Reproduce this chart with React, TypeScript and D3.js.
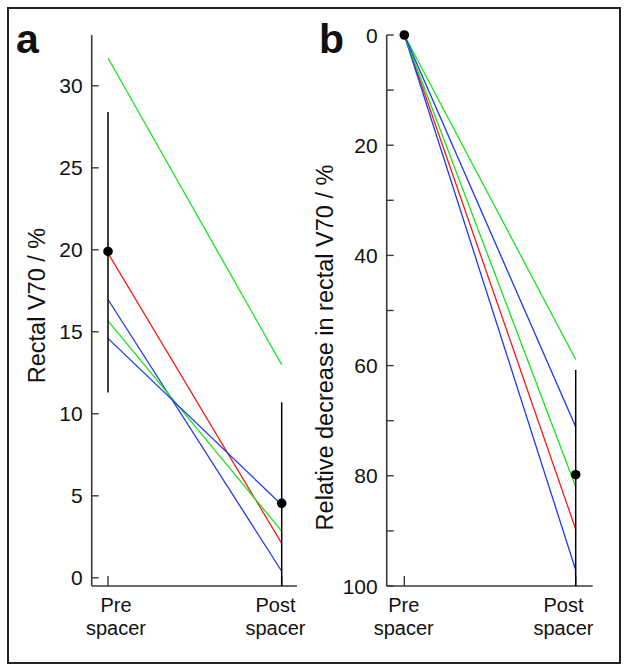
import React from "react";
import * as d3 from "d3";

const categories = ["Pre", "Post"];
const categoryLines = [["Pre", "spacer"], ["Post", "spacer"]];
const seriesColors = ["#1fe01f", "#ee1c1c", "#1f3be0", "#1fe01f", "#1f3be0"];

// Panel a: rectal V70 (%) per patient
const preV70 = [31.7, 19.8, 16.97, 15.67, 14.6];
const postV70 = [13.0, 2.1, 0.4, 2.85, 4.45];
const meanV70 = [19.9, 4.54];
const errLowV70 = [11.3, -0.5];
const errHighV70 = [28.4, 10.7];
const ticksA = [0, 5, 10, 15, 20, 25, 30];

// Panel b: relative decrease (%)
const preDecrease = [0, 0, 0, 0, 0];
const postDecrease = [58.9, 89.7, 97.1, 82.0, 71.1];
const meanDecrease = [0, 79.8];
const errLowDecrease = [null, 60.8];
const errHighDecrease = [null, 100];
const majorTicksB = [0, 20, 40, 60, 80, 100];
const minorTicksB = [10, 30, 50, 70, 90];

const FONT = "'Liberation Sans', Arial, Helvetica, sans-serif";
const AXIS = "#3a3a3a";

function Panel(props: any) {
  const {
    letter, letterX, axisX, axisRight, xRange, labelCenters, yDomain, pre, post,
    mean, errLow, errHigh, majorTicks, minorTicks, yLabel, yLabelX, yLabelY,
  } = props;
  const top = 35, bottom = 586;
  const x = d3.scalePoint<string>().domain(categories).range(xRange);
  const y = d3.scaleLinear().domain(yDomain).range([bottom, top]);
  const line = d3.line<number>().x((_, i) => x(categories[i]) as number).y((d) => y(d));
  return (
    <g>
      <text x={letterX} y={53} fontFamily={FONT} fontWeight="bold" fontSize={41} fill="#111">{letter}</text>
      {/* axes */}
      <line x1={axisX} x2={axisX} y1={top} y2={bottom} stroke={AXIS} strokeWidth={1.6} />
      <line x1={axisX} x2={axisRight} y1={bottom} y2={bottom} stroke={AXIS} strokeWidth={1.6} />
      {majorTicks.map((t: number) => (
        <g key={"M" + t}>
          <line x1={axisX} x2={axisX + 7} y1={y(t)} y2={y(t)} stroke={AXIS} strokeWidth={1.4} />
          <text x={axisX - 9} y={y(t)} dy="0.36em" textAnchor="end" fontFamily={FONT} fontSize={21} fill="#111">{t}</text>
        </g>
      ))}
      {minorTicks.map((t: number) => (
        <line key={"m" + t} x1={axisX} x2={axisX + 7} y1={y(t)} y2={y(t)} stroke={AXIS} strokeWidth={1.4} />
      ))}
      {categories.map((c) => (
        <line key={"xt" + c} x1={x(c)} x2={x(c)} y1={bottom} y2={bottom - 10} stroke={AXIS} strokeWidth={1.4} />
      ))}
      {categoryLines.map((ls, i) => (
        <text key={"cl" + i} x={labelCenters[i]} y={611.5} textAnchor="middle" fontFamily={FONT} fontSize={20} fill="#111">
          {ls.map((l, j) => (
            <tspan key={j} x={labelCenters[i]} dy={j === 0 ? 0 : 23.5}>{l}</tspan>
          ))}
        </text>
      ))}
      <text transform={`translate(${yLabelX},${yLabelY}) rotate(-90)`} textAnchor="middle" fontFamily={FONT} fontSize={23.5} fill="#111">{yLabel}</text>
      {/* patient lines */}
      {pre.map((p: number, i: number) => (
        <path key={"l" + i} d={line([p, post[i]]) as string} fill="none" stroke={seriesColors[i]} strokeWidth={1.3} />
      ))}
      {/* error bars */}
      {categories.map((c, i) =>
        errLow[i] == null ? null : (
          <line key={"e" + c} x1={x(c)} x2={x(c)} y1={y(errLow[i])} y2={y(errHigh[i])} stroke="#000" strokeWidth={1.5} />
        )
      )}
      {categories.map((c, i) => (
        <circle key={"d" + c} cx={x(c)} cy={y(mean[i])} r={4.8} fill="#000" />
      ))}
    </g>
  );
}

export default function App() {
  return (
    <svg width={629} height={672} style={{ position: "absolute", left: 0, top: 0, background: "#fff" }}>
      <rect x={0} y={0} width={629} height={672} fill="#fff" />
      <rect x={8} y={8} width={612} height={655} fill="none" stroke="#222" strokeWidth={2} />
      <Panel
        letter="a" letterX={16} axisX={91.7} axisRight={297} xRange={[108, 281.7]}
        labelCenters={[116, 275.5]} yDomain={[-0.5, 33.1]}
        pre={preV70} post={postV70} mean={meanV70} errLow={errLowV70} errHigh={errHighV70}
        majorTicks={ticksA} minorTicks={[]} yLabel="Rectal V70 / %" yLabelX={45} yLabelY={305.5}
      />
      <Panel
        letter="b" letterX={319} axisX={386.7} axisRight={592.7} xRange={[404.3, 575.7]}
        labelCenters={[403.7, 563.5]} yDomain={[100, 0]}
        pre={preDecrease} post={postDecrease} mean={meanDecrease} errLow={errLowDecrease} errHigh={errHighDecrease}
        majorTicks={majorTicksB} minorTicks={minorTicksB} yLabel="Relative decrease in rectal V70 / %" yLabelX={333} yLabelY={347.5}
      />
    </svg>
  );
}
